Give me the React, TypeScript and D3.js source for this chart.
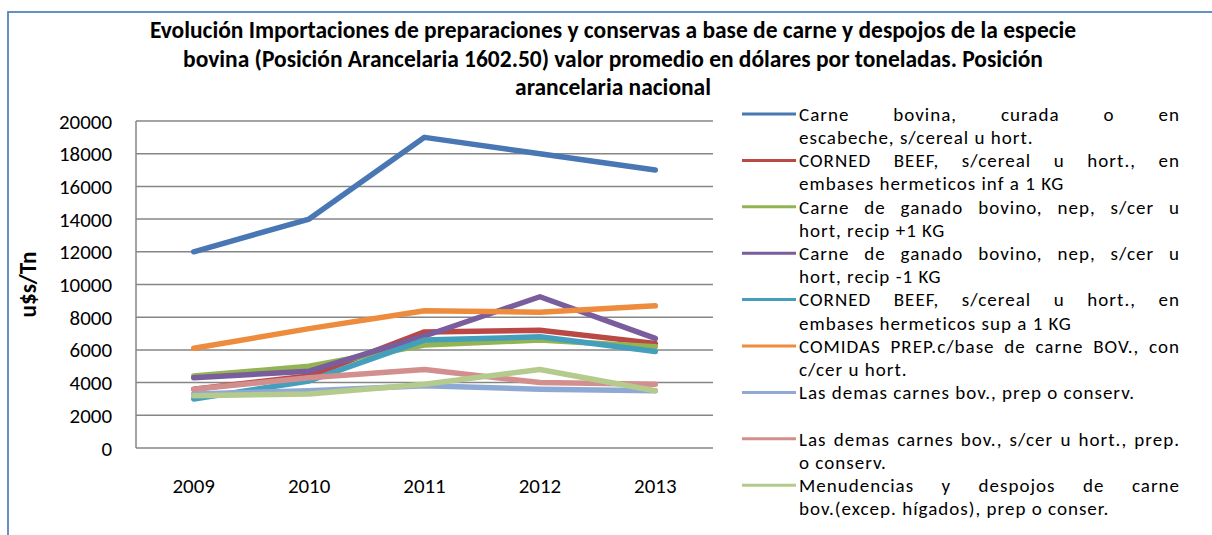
import React, { useMemo } from "react";
import * as d3 from "d3";

const years = ["2009", "2010", "2011", "2012", "2013"];
const carneBovinaCurada = [12000, 14000, 19000, 18000, 17000];
const cornedBeefInf = [3600, 4400, 7100, 7200, 6400];
const ganadoRecipMas = [4400, 5000, 6300, 6600, 6200];
const ganadoRecipMenos = [4300, 4700, 6850, 9250, 6700];
const cornedBeefSup = [3000, 4100, 6600, 6800, 5900];
const comidasPrep = [6100, 7300, 8400, 8300, 8700];
const demasCarnes = [3300, 3500, 3800, 3600, 3500];
const demasCarnesSinCer = [3600, 4300, 4800, 4000, 3900];
const menudencias = [3200, 3300, 3900, 4800, 3500];
const yTicks = [0, 2000, 4000, 6000, 8000, 10000, 12000, 14000, 16000, 18000, 20000];

const seriesValues = [
  carneBovinaCurada,
  cornedBeefInf,
  ganadoRecipMas,
  ganadoRecipMenos,
  cornedBeefSup,
  comidasPrep,
  demasCarnes,
  demasCarnesSinCer,
  menudencias,
];

const legendLabels = [
  ["Carne bovina, curada o en", "escabeche, s/cereal u hort."],
  ["CORNED BEEF, s/cereal u hort., en", "embases hermeticos inf a 1 KG"],
  ["Carne de ganado bovino, nep, s/cer u", "hort, recip +1 KG"],
  ["Carne de ganado bovino, nep, s/cer u", "hort, recip -1 KG"],
  ["CORNED BEEF, s/cereal u hort., en", "embases hermeticos sup a 1 KG"],
  ["COMIDAS PREP.c/base de carne BOV., con", "c/cer u hort."],
  ["Las demas carnes bov., prep o conserv."],
  ["Las demas carnes bov.,  s/cer u hort.,  prep.", "o conserv."],
  ["Menudencias y despojos de carne", "bov.(excep. hígados), prep o conser."],
];

const colors = [
  "#4877B4",
  "#BA4845",
  "#93B452",
  "#7A5D9C",
  "#449FBC",
  "#EE8C3E",
  "#8EA9D4",
  "#D38F8D",
  "#B5CB8E",
];

const titleLines = [
  "Evolución Importaciones de preparaciones y conservas a base de carne y despojos de la especie",
  "bovina (Posición Arancelaria 1602.50) valor promedio en dólares por toneladas. Posición",
  "arancelaria nacional",
];
const yAxisTitle = "u$s/Tn";

const FAMILY = "Carlito, Lato, 'Open Sans', sans-serif";

let ctx: CanvasRenderingContext2D | null = null;
function measure(text: string, size: number, bold = false, ls = 0): number {
  if (!ctx) ctx = document.createElement("canvas").getContext("2d");
  if (!ctx) return text.length * (size * 0.5 + ls);
  ctx.font = `${bold ? "bold " : ""}${size}px ${FAMILY}`;
  return ctx.measureText(text).width + ls * text.length;
}
function fitSize(text: string, target: number, bold = false) {
  return (100 * target) / measure(text, 100, bold);
}

export default function App() {
  const W = 1212;
  const H = 535;
  const left = 136;
  const right = 713;
  const top = 121;
  const bottom = 448;

  const x = d3.scaleBand<string>().domain(years).range([left, right]);
  const xc = (yr: string) => (x(yr) as number) + x.bandwidth() / 2;
  const y = d3.scaleLinear().domain([0, 20000]).range([bottom, top]);
  const line = d3
    .line<number>()
    .x((_, i) => xc(years[i]))
    .y((v) => y(v));

  const sizes = useMemo(() => {
    const legend = 19;
    const ref = "Las demas carnes bov., prep o conserv.";
    const natural = measure(ref, legend);
    const legendLs = Math.max(0, Math.min(1.2, (336 - natural) / ref.length));
    const tick = Math.max(14, Math.min(24, fitSize("20000", 53)));
    const title = Math.max(16, Math.min(24, fitSize(titleLines[1], 860, true)));
    const axis = Math.max(16, Math.min(28, fitSize(yAxisTitle, 66, true)));
    return { legend, legendLs, tick, title, axis };
  }, []);

  const legX0 = 799;
  const legX1 = 1180;
  const legY0 = 114;
  const legStep = 46.4;
  const lineGap = 23.2;

  const legendItems = legendLabels.map((lines, i) => {
    const cy = legY0 + i * legStep;
    const texts: { t: string; x: number; y: number }[] = [];
    lines.forEach((ln, j) => {
      const by = cy + j * lineGap + sizes.legend * 0.36;
      const isLast = j === lines.length - 1;
      if (isLast) {
        texts.push({ t: ln, x: legX0, y: by });
      } else {
        const words = ln.split(/\s+/);
        const widths = words.map((w) => measure(w, sizes.legend, false, sizes.legendLs));
        const sum = widths.reduce((a, b) => a + b, 0);
        const gap = words.length > 1 ? (legX1 - legX0 - sum) / (words.length - 1) : 0;
        let cx = legX0;
        words.forEach((w, k) => {
          texts.push({ t: w, x: cx, y: by });
          cx += widths[k] + gap;
        });
      }
    });
    return { cy, texts, color: colors[i] };
  });

  return (
    <svg
      width={W}
      height={H}
      style={{ position: "absolute", left: 0, top: 0, background: "#fff" }}
      fontFamily={FAMILY}
    >
      <rect x={0} y={0} width={W} height={H} fill="#fff" />
      <rect x={8} y={12} width={1300} height={700} fill="none" stroke="#4F81BD" strokeWidth={1.75} />

      {titleLines.map((t, i) => (
        <text
          key={i}
          x={613}
          y={38 + i * 28.7}
          textAnchor="middle"
          fontWeight="bold"
          fontSize={sizes.title}
          fill="#000"
        >
          {t}
        </text>
      ))}

      {yTicks.map((t) => (
        <line key={t} x1={left} x2={right} y1={y(t)} y2={y(t)} stroke="#868686" strokeWidth={1.5} />
      ))}
      <line x1={left} x2={left} y1={top} y2={bottom} stroke="#868686" strokeWidth={1.5} />

      {yTicks.map((t) => (
        <text key={t} x={112} y={y(t) + sizes.tick * 0.36} textAnchor="end" fontSize={sizes.tick} fill="#000">
          {t}
        </text>
      ))}
      {years.map((yr) => (
        <text key={yr} x={xc(yr)} y={493} textAnchor="middle" fontSize={sizes.tick} fill="#000">
          {yr}
        </text>
      ))}
      <text
        transform={`translate(36,${(top + bottom) / 2}) rotate(-90)`}
        textAnchor="middle"
        fontWeight="bold"
        fontSize={sizes.axis}
        fill="#000"
      >
        {yAxisTitle}
      </text>

      {seriesValues.map((vals, i) => (
        <path
          key={i}
          d={line(vals) as string}
          fill="none"
          stroke={colors[i]}
          strokeWidth={5.5}
          strokeLinejoin="round"
          strokeLinecap="round"
        />
      ))}

      {legendItems.map((it, i) => (
        <g key={i}>
          <line x1={742} x2={796} y1={it.cy} y2={it.cy} stroke={it.color} strokeWidth={3} />
          {it.texts.map((tt, k) => (
            <text
              key={k}
              x={tt.x}
              y={tt.y}
              fontSize={sizes.legend}
              letterSpacing={sizes.legendLs}
              fill="#000"
            >
              {tt.t}
            </text>
          ))}
        </g>
      ))}
    </svg>
  );
}
